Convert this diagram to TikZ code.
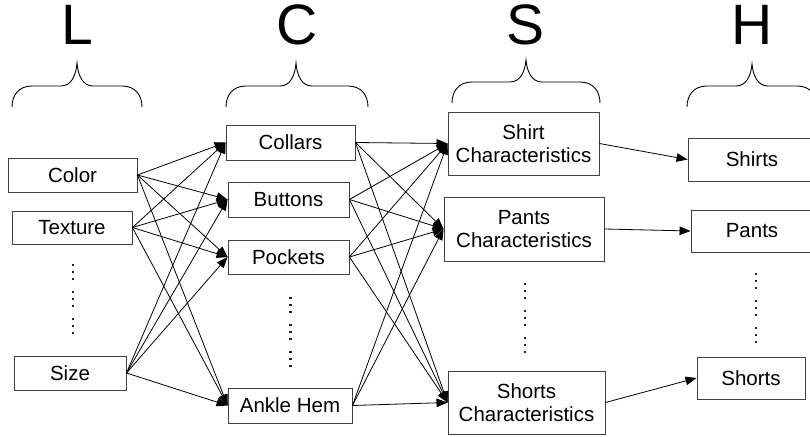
\documentclass[tikz,border=0pt]{standalone}
\usepackage{fontspec}
\setmainfont{Liberation Sans}
\usetikzlibrary{arrows.meta}
\newcommand\drawbrace[6]{% xl xr xt yb ym yt
  \draw[bracestyle] (#1,#4) .. controls (#1,{#5+10}) and ({#1+6},#5) .. ({#1+20},#5)
    -- ({#3-16},#5) .. controls ({#3-6},#5) and ({#3-1},{#5-10}) .. (#3,#6)
    .. controls ({#3+1},{#5-10}) and ({#3+6},#5) .. ({#3+16},#5)
    -- ({#2-20},#5) .. controls ({#2-6},#5) and (#2,{#5+10}) .. (#2,#4);}
\newcommand\drawdots[2]{% x ytop
  \foreach \d in {0,7,14,27,34,41,54,61,68}
    \fill[black!85] ({#1-1.1},{#2+\d-1.1}) rectangle ({#1+1.1},{#2+\d+1.1});}
\begin{document}
\begin{tikzpicture}[x=1pt,y=-1pt,
  box/.style={draw=black!75,line width=0.9pt,inner sep=0pt,align=center,
    font=\fontsize{20.5}{23}\selectfont},
  edge/.style={draw=black,line width=0.8pt,-{Triangle[length=11pt,width=8.5pt]}},
  bracestyle/.style={draw=black,line width=0.9pt},
  head/.style={font=\fontsize{57}{60}\selectfont,anchor=base,inner sep=0pt}]
\path[use as bounding box] (0,0) rectangle (810,436);
\clip (0,0) rectangle (810,436);
% headings
\node[head] (hL) at (77,45) {L};
\node[head] (hC) at (297,45) {C};
\node[head] (hS) at (526,45) {S};
\node[head] (hH) at (752,45) {H};
% braces
\drawbrace{12}{142}{77}{107}{86}{63}
\drawbrace{226}{368}{296}{107}{86}{63}
\drawbrace{452}{600}{526}{103}{82}{60}
\drawbrace{687}{817}{752}{107}{86}{64}
% L column
\node[box,minimum width=129pt,minimum height=34pt] (col) at (72.5,175) {Color};
\node[box,minimum width=120pt,minimum height=33pt] (tex) at (72,227.5) {Texture};
\node[box,minimum width=112pt,minimum height=34pt] (siz) at (70,373) {Size};
% C column
\node[box,minimum width=129pt,minimum height=35pt] (coll) at (290.5,142.5) {Collars};
\node[box,minimum width=121pt,minimum height=35pt] (butt) at (288.5,199.5) {Buttons};
\node[box,minimum width=121pt,minimum height=34pt] (pock) at (288.5,257) {Pockets};
\node[box,minimum width=124pt,minimum height=35pt] (ankl) at (290,405.5) {Ankle Hem};
% S column
\node[box,minimum width=151pt,minimum height=63pt] (shirtc) at (523.5,143.5) {Shirt\\Characteristics};
\node[box,minimum width=160pt,minimum height=64pt] (pantsc) at (524,229) {Pants\\Characteristics};
\node[box,minimum width=157pt,minimum height=63pt] (shortsc) at (526.5,402.5) {Shorts\\Characteristics};
% H column
\node[box,minimum width=128pt,minimum height=43pt] (shirts) at (752,159.5) {Shirts};
\node[box,minimum width=122pt,minimum height=42pt] (pants) at (752,231) {Pants};
\node[box,minimum width=108pt,minimum height=42pt] (shorts) at (751,378) {Shorts};
% dots
\drawdots{73}{265}
\drawdots{290.5}{298}
\drawdots{525}{284}
\drawdots{756}{274}
% edges
\foreach \a in {col,tex,siz}
  \foreach \b in {coll,butt,pock,ankl}
    \draw[edge] (\a.east) -- (\b.west);
\foreach \a in {coll,butt,pock,ankl}
  \foreach \b in {shirtc,pantsc,shortsc}
    \draw[edge] (\a.east) -- (\b.west);
\draw[edge] (shirtc.east) -- (shirts.west);
\draw[edge] (pantsc.east) -- (pants.west);
\draw[edge] (shortsc.east) -- (shorts.west);
\end{tikzpicture}
\end{document}
